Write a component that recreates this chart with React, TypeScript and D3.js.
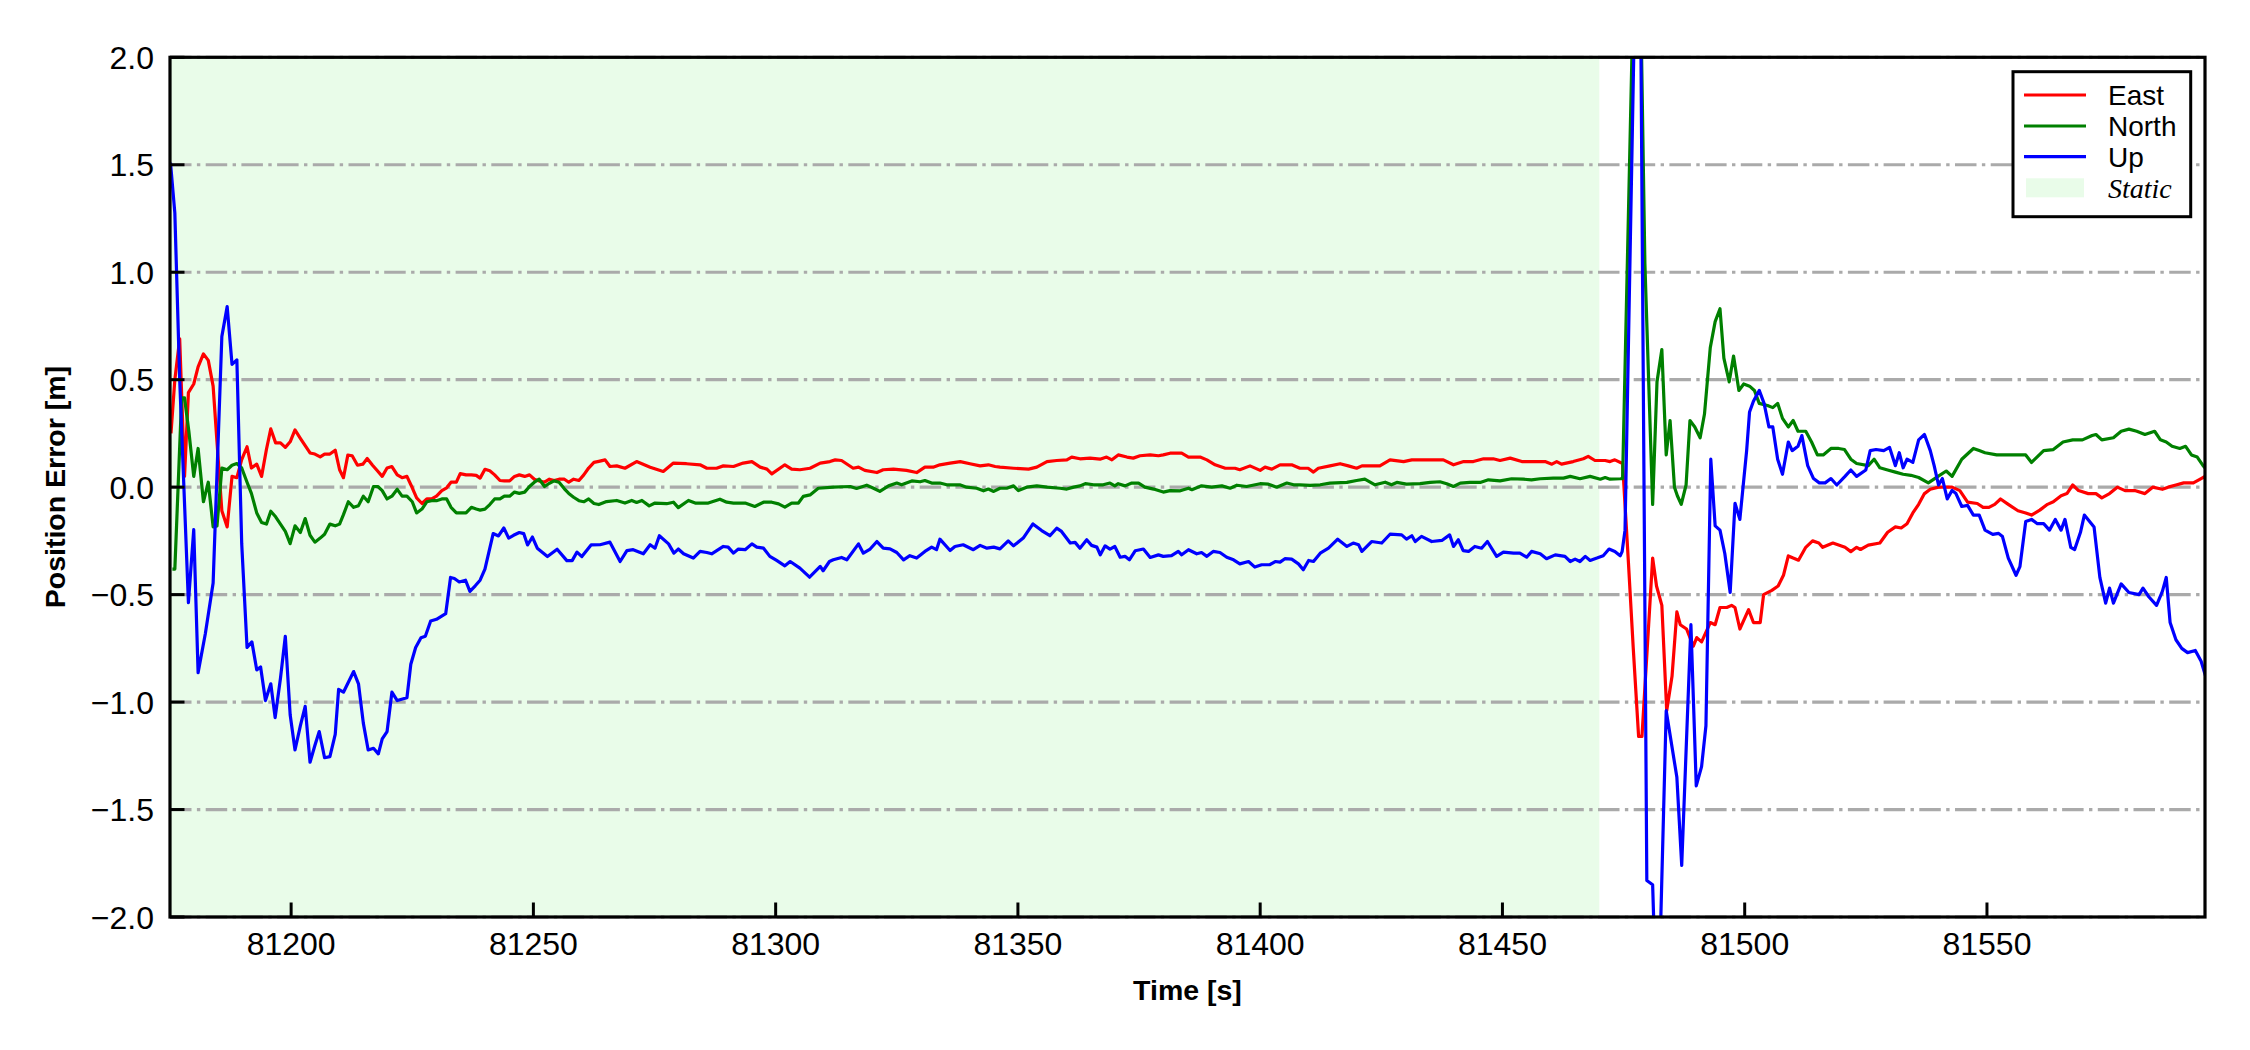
import React from "react";
import * as d3 from "d3";

// ---------- data ----------
const xDomain: [number, number] = [81175, 81595];
const yDomain: [number, number] = [-2, 2];
const xTicks = [81200, 81250, 81300, 81350, 81400, 81450, 81500, 81550];
const yTicks = [-2, -1.5, -1, -0.5, 0, 0.5, 1, 1.5, 2];
const staticPeriod: [number, number] = [81175, 81470];
const seriesNames = ["East", "North", "Up"];
const seriesColors = ["#ff0000", "#008000", "#0000ff"];
const staticLabel = "Static";
const xLabel = "Time [s]";
const yLabel = "Position Error [m]";

const eastData: [number, number][] = [
  [81175.2, 0.25], [81176, 0.5], [81177, 0.69], [81178, 0.05], [81178.8, 0.44], [81179.9, 0.48], [81180.8, 0.56],
  [81181.9, 0.62], [81182.9, 0.59], [81183.9, 0.47], [81184.7, 0.21], [81185.7, -0.11], [81186.8, -0.185],
  [81187.8, 0.05], [81188.8, 0.044], [81189.8, 0.128], [81190.9, 0.188], [81191.8, 0.089], [81192.9, 0.107],
  [81193.9, 0.05], [81194.9, 0.175], [81195.8, 0.271], [81196.8, 0.206], [81197.8, 0.206], [81198.8, 0.185],
  [81199.8, 0.211], [81200.8, 0.266], [81201.9, 0.227], [81202.9, 0.193], [81203.9, 0.159], [81204.9, 0.154],
  [81206, 0.141], [81206.9, 0.154], [81208, 0.154], [81209.1, 0.172], [81210, 0.081], [81210.8, 0.044],
  [81211.7, 0.149], [81212.6, 0.146], [81213.7, 0.102], [81214.8, 0.107], [81215.7, 0.133], [81216.8, 0.102],
  [81217.8, 0.076], [81218.8, 0.05], [81219.8, 0.089], [81220.8, 0.096], [81221.9, 0.057], [81222.9, 0.044],
  [81223.9, 0.05], [81225, -0.003], [81225.9, -0.05], [81227, -0.076], [81228, -0.055], [81229, -0.055],
  [81230, -0.042], [81231.1, -0.016], [81232.1, -0.003], [81233, 0.023], [81234.1, 0.023], [81234.9, 0.063],
  [81236.1, 0.057], [81237.2, 0.057], [81238.2, 0.055], [81239, 0.042], [81240, 0.083], [81241, 0.076],
  [81242, 0.057], [81243.1, 0.031], [81244, 0.029], [81245.1, 0.029], [81246.1, 0.05], [81247.1, 0.057],
  [81248.2, 0.05], [81249.2, 0.057], [81250.2, 0.037], [81251.2, 0.029], [81252.3, 0.023], [81253.3, 0.037],
  [81254.3, 0.031], [81255.3, 0.037], [81256.4, 0.037], [81257.3, 0.023], [81258.3, 0.037], [81259.4, 0.031],
  [81260.4, 0.057], [81261.4, 0.089], [81262.5, 0.115], [81263.5, 0.12], [81264.8, 0.127], [81265.8, 0.096],
  [81267.2, 0.099], [81268.9, 0.088], [81271.3, 0.119], [81274.1, 0.093], [81276.8, 0.073], [81278.9, 0.112],
  [81281.6, 0.109], [81284.4, 0.104], [81285.8, 0.088], [81287.8, 0.088], [81289.2, 0.099], [81291.3, 0.096],
  [81293.3, 0.112], [81295.1, 0.119], [81296.8, 0.093], [81298.2, 0.084], [81299.2, 0.062], [81301.9, 0.104],
  [81303.3, 0.084], [81305, 0.081], [81307.1, 0.088], [81309.2, 0.112], [81311.2, 0.119], [81312.3, 0.127],
  [81313.6, 0.124], [81316, 0.088], [81317.1, 0.093], [81318.4, 0.078], [81320.9, 0.068], [81322.2, 0.081],
  [81324.3, 0.084], [81327, 0.078], [81329.1, 0.068], [81330.8, 0.093], [81332.5, 0.093], [81333.9, 0.104],
  [81336, 0.112], [81338.1, 0.119], [81340.1, 0.109], [81342.2, 0.099], [81343.9, 0.104], [81345.3, 0.096],
  [81346.3, 0.093], [81349.1, 0.088], [81352.2, 0.084], [81353.9, 0.093], [81356, 0.119], [81358, 0.124],
  [81360.1, 0.127], [81361.1, 0.14], [81362.8, 0.132], [81364.9, 0.135], [81366.95, 0.13], [81368.3, 0.14],
  [81369.4, 0.127], [81370.7, 0.15], [81372.5, 0.14], [81373.8, 0.135], [81375.2, 0.146], [81377.3, 0.15],
  [81379, 0.146], [81380, 0.15], [81381.4, 0.158], [81383.8, 0.158], [81385.2, 0.14], [81387.6, 0.14],
  [81389, 0.127], [81390.7, 0.104], [81392.8, 0.088], [81394.8, 0.088], [81395.8, 0.081], [81397.9, 0.099],
  [81400, 0.078], [81401, 0.093], [81402.4, 0.084], [81404.1, 0.104], [81406.5, 0.104], [81408.2, 0.088],
  [81409.9, 0.088], [81411, 0.07], [81412, 0.088], [81414.4, 0.099], [81416.5, 0.109], [81418.2, 0.099],
  [81419.9, 0.088], [81421, 0.099], [81423, 0.099], [81424.7, 0.099], [81426.8, 0.127], [81429.6, 0.119],
  [81431.3, 0.127], [81434.4, 0.127], [81437.8, 0.127], [81439.9, 0.104], [81442, 0.119], [81444, 0.119],
  [81446.1, 0.132], [81448.1, 0.132], [81449.5, 0.124], [81451.6, 0.135], [81454, 0.119], [81456.4, 0.119],
  [81458.8, 0.119], [81460.2, 0.107], [81461.2, 0.119], [81462.2, 0.107], [81464.6, 0.119], [81466.7, 0.132],
  [81467.7, 0.143], [81469.1, 0.124], [81471.2, 0.124], [81472.2, 0.119], [81473.2, 0.127], [81474.8, 0.11],
  [81476, -0.35], [81477, -0.75], [81478.1, -1.16], [81478.8, -1.16], [81481, -0.33], [81481.8, -0.46],
  [81482.9, -0.55], [81483.9, -1.04], [81485, -0.88], [81486, -0.58], [81486.7, -0.64], [81488, -0.66],
  [81489.4, -0.74], [81490.1, -0.7], [81491.1, -0.72], [81492.9, -0.63], [81493.9, -0.64], [81494.9, -0.56],
  [81496.3, -0.56], [81497.3, -0.55], [81498, -0.56], [81499, -0.66], [81500.8, -0.57], [81501.8, -0.63],
  [81503.2, -0.63], [81503.9, -0.5], [81505.6, -0.48], [81506.9, -0.46], [81508, -0.41], [81509, -0.32],
  [81510, -0.33], [81511.1, -0.34], [81512.6, -0.28], [81514, -0.25], [81515.3, -0.26], [81516.1, -0.28],
  [81518.2, -0.26], [81520.7, -0.28], [81521.9, -0.3], [81523.1, -0.28], [81523.9, -0.29], [81525.5, -0.27],
  [81527.9, -0.26], [81529.5, -0.21], [81531.1, -0.185], [81532.3, -0.19], [81533.5, -0.17], [81534.7, -0.12],
  [81535.9, -0.08], [81537.1, -0.03], [81538.3, -0.01], [81540, 0], [81541.2, 0], [81542.8, 0], [81544.4, -0.016],
  [81546, -0.07], [81548, -0.076], [81549.2, -0.094], [81550.4, -0.094], [81551.6, -0.08], [81552.8, -0.055],
  [81554.4, -0.08], [81556.4, -0.11], [81558, -0.12], [81559.2, -0.13], [81560.9, -0.107], [81562.5, -0.08],
  [81563.7, -0.068], [81565.3, -0.04], [81566.5, -0.03], [81567.7, 0.01], [81568.9, -0.016], [81570.9, -0.03],
  [81572.5, -0.03], [81573.7, -0.05], [81575.3, -0.03], [81576.9, 0], [81578.5, -0.016], [81580.5, -0.016],
  [81582.6, -0.03], [81584.2, 0], [81586.2, -0.01], [81587.4, 0], [81589, 0.01], [81590.6, 0.02],
  [81592.6, 0.02], [81594.2, 0.04], [81595.4, 0.055],
];

const northData: [number, number][] = [
  [81175.5, -0.381], [81176, -0.381], [81177.4, 0.415], [81178, 0.415], [81178.9, 0.258], [81179.9, 0.05],
  [81180.8, 0.18], [81181.9, -0.068], [81182.9, 0.023], [81183.9, -0.185], [81184.7, -0.18], [81185.7, 0.089],
  [81186.8, 0.081], [81187.8, 0.102], [81188.8, 0.11], [81189.8, 0.089], [81190.9, 0.023], [81191.8, -0.029],
  [81192.9, -0.12], [81193.9, -0.164], [81194.9, -0.172], [81195.8, -0.112], [81196.8, -0.138], [81197.8, -0.172],
  [81198.8, -0.206], [81199.8, -0.263], [81200.8, -0.18], [81201.9, -0.211], [81202.9, -0.146], [81203.9, -0.224],
  [81204.9, -0.256], [81206, -0.237], [81206.9, -0.219], [81208, -0.172], [81209.1, -0.18], [81210, -0.172],
  [81210.8, -0.128], [81211.8, -0.068], [81212.9, -0.094], [81213.9, -0.086], [81214.9, -0.042], [81215.9, -0.068],
  [81217, 0.003], [81217.9, 0.003], [81218.8, -0.016], [81219.8, -0.055], [81220.8, -0.042], [81221.9, -0.01],
  [81222.9, -0.042], [81223.9, -0.042], [81225, -0.068], [81225.9, -0.12], [81227, -0.102], [81228, -0.068],
  [81229, -0.063], [81230, -0.063], [81231.1, -0.055], [81232.1, -0.055], [81233, -0.094], [81234.1, -0.12],
  [81234.9, -0.12], [81236.1, -0.12], [81237.2, -0.094], [81238.2, -0.102], [81239, -0.107], [81240, -0.102],
  [81241, -0.081], [81242, -0.055], [81243.1, -0.055], [81244, -0.042], [81245.1, -0.042], [81246.1, -0.023],
  [81247.1, -0.029], [81248.2, -0.023], [81249.2, 0.003], [81250.2, 0.023], [81251.2, 0.037], [81252.3, 0.003],
  [81253.3, 0.018], [81254.3, 0.029], [81255.3, 0.023], [81256.4, -0.008], [81257.3, -0.029], [81258.3, -0.047],
  [81259.4, -0.063], [81260.4, -0.068], [81261.4, -0.055], [81262.5, -0.076], [81263.5, -0.081], [81265.1, -0.067],
  [81267.2, -0.062], [81268.9, -0.074], [81270.3, -0.062], [81271.3, -0.071], [81272.4, -0.062], [81273.9, -0.087],
  [81275.1, -0.074], [81277.5, -0.077], [81278.9, -0.07], [81279.9, -0.095], [81282, -0.062], [81283.4, -0.074],
  [81286.1, -0.074], [81288.5, -0.056], [81289.9, -0.07], [81291.3, -0.074], [81293.7, -0.074], [81295.7, -0.09],
  [81297.5, -0.07], [81299.2, -0.07], [81300.6, -0.078], [81301.9, -0.093], [81303.3, -0.074], [81304.7, -0.074],
  [81305.7, -0.043], [81307.1, -0.036], [81308.8, -0.005], [81311.9, 0], [81315.4, 0.003], [81316.7, -0.006],
  [81318.8, 0.009], [81320.2, -0.005], [81321.5, -0.02], [81323.3, 0.006], [81325, 0.019], [81326, 0.011],
  [81328.1, 0.029], [81329.8, 0.025], [81330.8, 0.031], [81332.2, 0.019], [81333.9, 0.019], [81335.3, 0.011],
  [81336.7, 0.011], [81338, 0.011], [81339.4, 0], [81341.5, -0.005], [81342.9, -0.017], [81343.9, -0.009],
  [81345, -0.02], [81346.3, -0.005], [81347.7, -0.005], [81349.1, 0.006], [81350.1, -0.016], [81351.8, 0],
  [81353.9, 0.006], [81356, 0], [81358.7, -0.005], [81360.1, -0.009], [81361.5, 0], [81362.8, 0.006],
  [81363.9, 0.016], [81365.6, 0.011], [81367.6, 0.011], [81369, 0.019], [81370, 0.006], [81370.7, 0.016],
  [81372.1, 0.006], [81373.5, 0.019], [81374.9, 0.019], [81376.2, 0], [81378, -0.009], [81380, -0.023],
  [81381.4, -0.016], [81383.5, -0.017], [81385.2, -0.005], [81385.9, -0.012], [81387.9, 0.006], [81390, 0],
  [81392.1, 0.006], [81393.8, -0.005], [81395.2, 0.009], [81397.2, 0.003], [81400, 0.016], [81401.7, 0.014],
  [81403.4, 0], [81405.5, 0.019], [81406.9, 0.011], [81408.2, 0.011], [81410.3, 0.008], [81412.4, 0.011],
  [81414.4, 0.019], [81417.9, 0.022], [81419.9, 0.031], [81421.6, 0.037], [81423.7, 0.011], [81425.8, 0.023],
  [81427.1, 0.011], [81428.2, 0.022], [81430.2, 0.014], [81433, 0.016], [81435.1, 0.022], [81437.1, 0.025],
  [81438.5, 0.016], [81439.9, 0.003], [81441.3, 0.019], [81443.3, 0.022], [81445.4, 0.022], [81447.1, 0.034],
  [81449.5, 0.029], [81451.9, 0.039], [81454.3, 0.037], [81456, 0.034], [81457.8, 0.039], [81460.5, 0.042],
  [81462.6, 0.042], [81464, 0.05], [81466, 0.039], [81468.1, 0.05], [81470.2, 0.037], [81471.2, 0.045],
  [81472.2, 0.037], [81474.3, 0.039], [81474.8, 0.04], [81477.3, 2.6], [81478.3, 2.6], [81479.4, 1.04],
  [81481, -0.08], [81481.9, 0.49], [81482.9, 0.64], [81483.8, 0.15], [81484.6, 0.31], [81485.5, 0],
  [81486.1, -0.04], [81486.9, -0.08], [81487.9, 0.01], [81488.7, 0.31], [81489.7, 0.28], [81490.8, 0.23],
  [81491.7, 0.34], [81492.9, 0.65], [81493.9, 0.77], [81494.9, 0.83], [81495.7, 0.6], [81496.8, 0.49],
  [81497.7, 0.61], [81498.8, 0.45], [81499.8, 0.48], [81501, 0.47], [81502, 0.45], [81503, 0.39],
  [81504.7, 0.38], [81505.8, 0.37], [81506.8, 0.39], [81507.8, 0.32], [81509, 0.28], [81510, 0.31],
  [81511, 0.26], [81512.6, 0.26], [81513.8, 0.21], [81515, 0.15], [81516.2, 0.15], [81517.8, 0.18],
  [81519.4, 0.18], [81520.6, 0.175], [81521.9, 0.13], [81523.1, 0.11], [81525.5, 0.1], [81526.7, 0.13],
  [81527.9, 0.09], [81529.5, 0.08], [81531.1, 0.07], [81532.7, 0.06], [81534.3, 0.055], [81535.9, 0.045],
  [81537.9, 0.02], [81539.9, 0.05], [81541.6, 0.075], [81542.8, 0.05], [81544.8, 0.13], [81547.2, 0.18],
  [81548.4, 0.17], [81549.6, 0.16], [81552, 0.15], [81555.2, 0.15], [81558, 0.15], [81559.2, 0.115],
  [81561.7, 0.17], [81563.7, 0.175], [81565.7, 0.21], [81567.7, 0.22], [81569.7, 0.22], [81571.7, 0.24],
  [81572.5, 0.245], [81573.7, 0.22], [81576.1, 0.23], [81577.7, 0.26], [81579.3, 0.27], [81580.9, 0.26],
  [81582.6, 0.245], [81584.6, 0.26], [81585.8, 0.22], [81587, 0.21], [81588.2, 0.19], [81589.8, 0.18],
  [81591, 0.19], [81592.2, 0.15], [81593.4, 0.14], [81594.6, 0.1], [81595.4, 0.08],
];

const upData: [number, number][] = [
  [81175.1, 1.51], [81176, 1.275], [81177, 0.5], [81178.8, -0.537], [81179.9, -0.198], [81180.8, -0.863],
  [81182.3, -0.681], [81183.9, -0.446], [81185.7, 0.701], [81186.8, 0.84], [81187.8, 0.571], [81188.8, 0.592],
  [81189.8, -0.263], [81190.9, -0.746], [81191.9, -0.72], [81192.9, -0.85], [81193.7, -0.837], [81194.7, -0.993],
  [81195.8, -0.915], [81196.7, -1.072], [81197.8, -0.889], [81198.8, -0.694], [81199.8, -1.059], [81200.8, -1.223],
  [81201.9, -1.111], [81202.9, -1.02], [81203.9, -1.28], [81204.9, -1.202], [81205.8, -1.137], [81206.9, -1.259],
  [81208, -1.254], [81209.1, -1.15], [81209.8, -0.941], [81210.8, -0.954], [81212.9, -0.858], [81213.9, -0.915],
  [81214.9, -1.098], [81215.9, -1.223], [81217, -1.215], [81218, -1.241], [81218.8, -1.171], [81219.8, -1.137],
  [81220.8, -0.954], [81221.9, -0.993], [81223.9, -0.98], [81224.7, -0.824], [81225.7, -0.746], [81226.8, -0.701],
  [81227.7, -0.694], [81228.8, -0.623], [81230, -0.615], [81231.9, -0.589], [81232.9, -0.42], [81233.7, -0.425],
  [81234.7, -0.441], [81236, -0.433], [81236.9, -0.485], [81238, -0.459], [81239, -0.433], [81240, -0.381],
  [81241.7, -0.216], [81242.8, -0.227], [81243.9, -0.19], [81244.9, -0.237], [81245.9, -0.224], [81247.1, -0.211],
  [81248, -0.216], [81248.8, -0.269], [81249.8, -0.232], [81250.8, -0.284], [81252.9, -0.323], [81254.9, -0.289],
  [81256.9, -0.342], [81258, -0.342], [81259, -0.302], [81260, -0.323], [81261.9, -0.269], [81263.75, -0.268],
  [81265.8, -0.256], [81267.9, -0.346], [81269.3, -0.295], [81270.6, -0.291], [81272.7, -0.31], [81274.1, -0.268],
  [81275.1, -0.284], [81276, -0.226], [81277.9, -0.264], [81279, -0.307], [81279.9, -0.288], [81281, -0.31],
  [81283, -0.33], [81284.4, -0.299], [81285.8, -0.304], [81286.8, -0.31], [81289.2, -0.276], [81290.2, -0.279],
  [81291.3, -0.307], [81292.3, -0.288], [81293.7, -0.291], [81295.1, -0.264], [81296.1, -0.279], [81297.5, -0.284],
  [81298.8, -0.322], [81300.2, -0.341], [81301.9, -0.366], [81303, -0.346], [81305, -0.377], [81307, -0.419],
  [81309.2, -0.369], [81309.8, -0.389], [81311.1, -0.346], [81311.9, -0.338], [81313.6, -0.327], [81314.7, -0.338],
  [81317.1, -0.264], [81318.1, -0.307], [81319.5, -0.288], [81320.9, -0.253], [81322.2, -0.284], [81323.6, -0.287],
  [81325, -0.304], [81326.4, -0.338], [81327.7, -0.319], [81329.1, -0.33], [81330.8, -0.299], [81332.2, -0.279],
  [81333.2, -0.291], [81333.9, -0.242], [81336, -0.295], [81337, -0.276], [81338.7, -0.268], [81340.8, -0.291],
  [81342.2, -0.271], [81343.6, -0.284], [81345, -0.279], [81346.3, -0.287], [81348, -0.25], [81349.1, -0.273],
  [81351.1, -0.237], [81353.1, -0.171], [81354.9, -0.202], [81356.6, -0.226], [81358, -0.191], [81359, -0.206],
  [81360.8, -0.26], [81361.8, -0.257], [81362.8, -0.284], [81364.2, -0.245], [81365.2, -0.271], [81366.3, -0.279],
  [81367, -0.315], [81368, -0.273], [81369, -0.288], [81370, -0.276], [81371.1, -0.326], [81372.1, -0.322],
  [81373, -0.338], [81374.2, -0.296], [81375.9, -0.288], [81377.3, -0.327], [81379, -0.315], [81380, -0.322],
  [81381.7, -0.319], [81383.1, -0.299], [81383.8, -0.315], [81385.2, -0.291], [81386.9, -0.31], [81387.9, -0.304],
  [81389, -0.322], [81390.3, -0.299], [81391.7, -0.304], [81393.1, -0.326], [81394.5, -0.338], [81395.8, -0.357],
  [81397.6, -0.346], [81398.9, -0.372], [81400.3, -0.361], [81402, -0.361], [81403.1, -0.346], [81404.1, -0.349],
  [81405.1, -0.333], [81406.5, -0.335], [81407.9, -0.357], [81408.9, -0.384], [81410, -0.341], [81411, -0.346],
  [81412.4, -0.307], [81414.1, -0.284], [81416, -0.242], [81417.9, -0.276], [81419.2, -0.26], [81420.3, -0.268],
  [81421, -0.299], [81423, -0.253], [81425.1, -0.26], [81426.8, -0.219], [81429.2, -0.222], [81430.2, -0.242],
  [81431.3, -0.226], [81432, -0.253], [81433.3, -0.229], [81435.4, -0.253], [81437.5, -0.248], [81439.1, -0.222],
  [81439.9, -0.276], [81440.9, -0.245], [81441.9, -0.295], [81443, -0.299], [81444.3, -0.276], [81445.7, -0.284],
  [81446.9, -0.253], [81448.8, -0.322], [81450.2, -0.302], [81452.3, -0.307], [81453.6, -0.307], [81455, -0.326],
  [81456, -0.299], [81457.8, -0.31], [81459.1, -0.333], [81460.9, -0.315], [81462.9, -0.322], [81464, -0.346],
  [81465, -0.335], [81466, -0.346], [81467.1, -0.322], [81468.1, -0.341], [81469.5, -0.33], [81470.8, -0.319],
  [81472, -0.288], [81473.2, -0.299], [81474.3, -0.319], [81474.7, -0.3], [81475.3, -0.2], [81477.5, 2.5],
  [81478.5, 2.3], [81479.8, -1.83], [81481, -1.85], [81482, -2.6], [81483.8, -1.04], [81486, -1.35],
  [81487, -1.76], [81488.9, -0.64], [81490, -1.39], [81491.1, -1.3], [81492, -1.11], [81493, 0.13],
  [81493.9, -0.18], [81494.9, -0.2], [81495.9, -0.31], [81497, -0.49], [81498, -0.075], [81499, -0.15],
  [81500.4, 0.17], [81501, 0.35], [81501.8, 0.4], [81503, 0.45], [81504, 0.39], [81505, 0.28],
  [81505.8, 0.28], [81506.8, 0.13], [81507.8, 0.06], [81509, 0.21], [81509.8, 0.17], [81511, 0.19],
  [81511.8, 0.24], [81513, 0.1], [81514.2, 0.04], [81515.4, 0.02], [81516.6, 0.02], [81517.8, 0.04],
  [81519, 0.01], [81520.7, 0.05], [81521.9, 0.08], [81523.1, 0.05], [81525, 0.08], [81525.9, 0.17],
  [81527.1, 0.175], [81528.7, 0.17], [81529.9, 0.185], [81531.1, 0.1], [81531.9, 0.16], [81532.7, 0.09],
  [81533.5, 0.13], [81534.7, 0.115], [81535.9, 0.22], [81537.1, 0.245], [81538.3, 0.17], [81539.1, 0.1],
  [81540, 0.01], [81540.8, 0.04], [81541.8, -0.055], [81542.8, -0.015], [81543.6, -0.03], [81544.8, -0.09],
  [81546, -0.085], [81547.2, -0.13], [81548.4, -0.13], [81549.6, -0.2], [81551.2, -0.22], [81552.4, -0.215],
  [81553.2, -0.23], [81554.4, -0.33], [81556, -0.41], [81556.8, -0.37], [81558, -0.16], [81559.2, -0.15],
  [81560.4, -0.17], [81561.7, -0.17], [81562.9, -0.2], [81564.1, -0.15], [81565.3, -0.2], [81566.1, -0.15],
  [81567.3, -0.28], [81568.1, -0.29], [81569.3, -0.21], [81570.1, -0.13], [81572.1, -0.185], [81573.3, -0.42],
  [81574.5, -0.54], [81575.3, -0.47], [81576.1, -0.54], [81577.7, -0.45], [81579.3, -0.49], [81581.4, -0.5],
  [81582.2, -0.47], [81583.4, -0.51], [81585, -0.55], [81586.2, -0.485], [81587, -0.42], [81587.8, -0.63],
  [81589, -0.71], [81590.2, -0.75], [81591.4, -0.77], [81593, -0.76], [81594.2, -0.81], [81595.4, -0.9],
];

const seriesData = [eastData, northData, upData];

// ---------- layout ----------
const W = 2250;
const H = 1050;
const plot = { left: 170, right: 2205, top: 57.3, bottom: 917 };
const FONT = "'Liberation Sans', Arial, Helvetica, sans-serif";

export default function App() {
  const x = d3.scaleLinear().domain(xDomain).range([plot.left, plot.right]);
  const y = d3.scaleLinear().domain(yDomain).range([plot.bottom, plot.top]);
  const line = d3
    .line<[number, number]>()
    .x((d) => x(d[0]))
    .y((d) => y(d[1]));
  const fmtY = d3.format(".1f");
  const tickLen = 14.5;
  const pw = plot.right - plot.left;
  const ph = plot.bottom - plot.top;

  // legend
  const lg = { x: 2013, y: 71.7, w: 177.7, h: 145 };
  const rowY = [95, 126, 156.7, 188];

  return (
    <svg
      width={W}
      height={H}
      style={{ position: "absolute", left: 0, top: 0, background: "#fff" }}
    >
      <defs>
        <clipPath id="plotclip">
          <rect x={plot.left} y={plot.top} width={pw} height={ph} />
        </clipPath>
      </defs>
      <rect x={0} y={0} width={W} height={H} fill="#ffffff" />
      {/* static band */}
      <rect
        x={x(staticPeriod[0])}
        y={plot.top}
        width={x(staticPeriod[1]) - x(staticPeriod[0])}
        height={ph}
        fill="#e9fce9"
      />
      {/* grid */}
      {yTicks.map((t) => (
        <line
          key={"g" + t}
          x1={plot.left}
          x2={plot.right}
          y1={y(t)}
          y2={y(t)}
          stroke="#aaaaaa"
          strokeWidth={3.2}
          strokeDasharray="21.5,5.4,3.4,5.4"
        />
      ))}
      {/* series */}
      <g clipPath="url(#plotclip)">
        {seriesData.map((d, i) => (
          <path
            key={seriesNames[i]}
            d={line(d) || ""}
            fill="none"
            stroke={seriesColors[i]}
            strokeWidth={3.2}
            strokeLinejoin="round"
          />
        ))}
      </g>
      {/* ticks */}
      {yTicks.map((t) => (
        <g key={"yt" + t}>
          <line x1={plot.left} x2={plot.left + tickLen} y1={y(t)} y2={y(t)} stroke="#000" strokeWidth={3} />
          <text
            x={plot.left - 16}
            y={y(t) + 11.5}
            textAnchor="end"
            fontFamily={FONT}
            fontSize={32}
            fill="#000"
          >
            {fmtY(t)}
          </text>
        </g>
      ))}
      {xTicks.map((t) => (
        <g key={"xt" + t}>
          <line x1={x(t)} x2={x(t)} y1={plot.bottom} y2={plot.bottom - tickLen} stroke="#000" strokeWidth={3} />
          <text
            x={x(t)}
            y={955}
            textAnchor="middle"
            fontFamily={FONT}
            fontSize={32}
            fill="#000"
          >
            {String(t)}
          </text>
        </g>
      ))}
      {/* frame */}
      <rect
        x={plot.left}
        y={plot.top}
        width={pw}
        height={ph}
        fill="none"
        stroke="#000"
        strokeWidth={3.2}
      />
      {/* axis labels */}
      <text
        x={(plot.left + plot.right) / 2}
        y={1000}
        textAnchor="middle"
        fontFamily={FONT}
        fontWeight="bold"
        fontSize={28.5}
        fill="#000"
      >
        {xLabel}
      </text>
      <text
        transform={`translate(65,${(plot.top + plot.bottom) / 2}) rotate(-90)`}
        textAnchor="middle"
        fontFamily={FONT}
        fontWeight="bold"
        fontSize={28.5}
        fill="#000"
      >
        {yLabel}
      </text>
      {/* legend */}
      <rect x={lg.x} y={lg.y} width={lg.w} height={lg.h} fill="#fff" stroke="#000" strokeWidth={3} />
      {seriesNames.map((n, i) => (
        <g key={"lg" + n}>
          <line x1={2024} x2={2086} y1={rowY[i]} y2={rowY[i]} stroke={seriesColors[i]} strokeWidth={3.2} />
          <text x={2108} y={rowY[i] + 10} fontFamily={FONT} fontSize={28} fill="#000">
            {n}
          </text>
        </g>
      ))}
      <rect x={2026} y={178.3} width={58} height={19} fill="#e9fce9" />
      <text
        x={2108}
        y={rowY[3] + 10}
        fontFamily="'Liberation Serif', 'Times New Roman', serif"
        fontStyle="italic"
        fontSize={28}
        fill="#000"
      >
        {staticLabel}
      </text>
    </svg>
  );
}
